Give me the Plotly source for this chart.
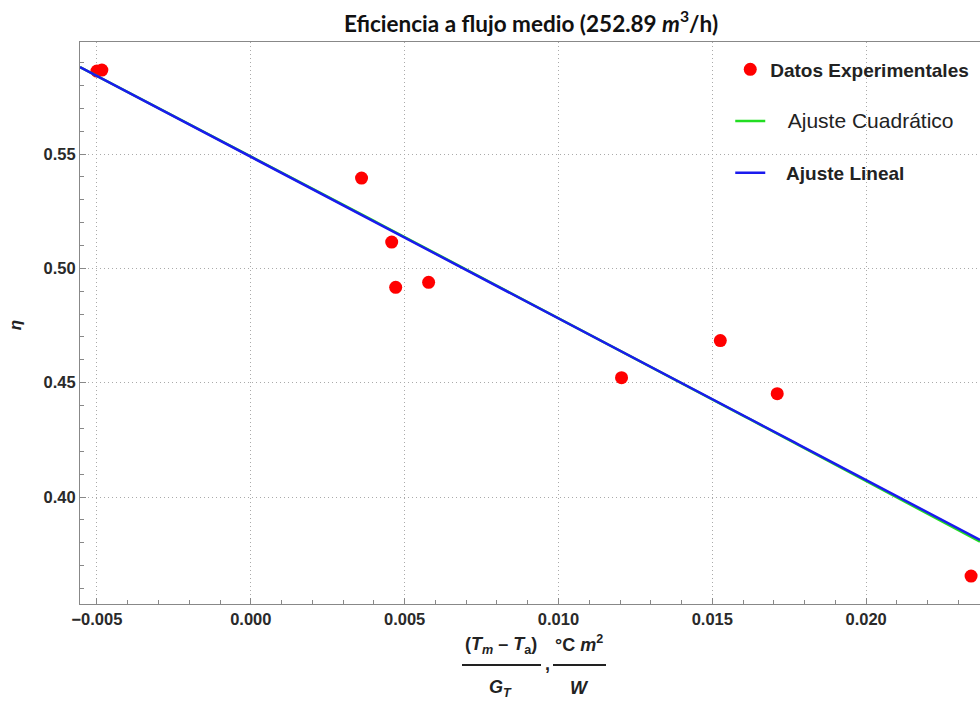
import numpy as np
import plotly.graph_objects as go

# ---- data ----
x_exp = [-0.00500, -0.00484, 0.00360, 0.00458, 0.00471, 0.00578, 0.01205, 0.01526, 0.01711, 0.02341]
y_exp = [0.5863, 0.5867, 0.5395, 0.5115, 0.4917, 0.4939, 0.4522, 0.4684, 0.4452, 0.3654]

lin_coef = [0.5488, -7.07]          # a + b x
quad_coef = [0.5490, -7.04, -3.0]   # a + b x + c x^2

x_range = [-0.00555, 0.0237]
y_range = [0.3532, 0.599]
x_ticks = [-0.005, 0.000, 0.005, 0.010, 0.015, 0.020]
x_ticklabels = ["\u22120.005", "0.000", "0.005", "0.010", "0.015", "0.020"]
y_ticks = [0.40, 0.45, 0.50, 0.55]
y_ticklabels = ["0.40", "0.45", "0.50", "0.55"]

xs = np.linspace(x_range[0], x_range[1], 200)
y_lin = lin_coef[0] + lin_coef[1] * xs
y_quad = quad_coef[0] + quad_coef[1] * xs + quad_coef[2] * xs ** 2

fig = go.Figure()
fig.add_trace(go.Scatter(x=x_exp, y=y_exp, mode="markers",
                         marker=dict(color="#ff0000", size=13),
                         name="<b>Datos Experimentales</b>", legendgroup="a"))
fig.add_trace(go.Scatter(x=xs, y=y_quad, mode="lines",
                         line=dict(color="#22dd22", width=2.5),
                         name="<span style=\"font-size:21px\">\u00a0\u00a0\u00a0Ajuste Cuadrático</span>", legendgroup="b"))
fig.add_trace(go.Scatter(x=xs, y=y_lin, mode="lines",
                         line=dict(color="#1a1aee", width=2.5),
                         name="\u00a0\u00a0\u00a0<b>Ajuste Lineal</b>", legendgroup="c"))

tickfont = dict(family="Liberation Sans", size=16.5, color="#2a2a2a", weight="bold")
gridstyle = "1px,3px"
fig.update_layout(
    width=980, height=705,
    margin=dict(l=80, r=0, t=42, b=101),
    plot_bgcolor="white", paper_bgcolor="white",
    title=dict(text="<b>Eficiencia a flujo medio (252.89 <i>m</i><sup>3</sup>/h)</b>",
               x=531 / 980, xanchor="center", y=0.966, yanchor="middle",
               font=dict(family="Lato", size=22.5, color="#111111")),
    legend=dict(x=0.7225, y=0.985, xanchor="left", yanchor="top",
                bgcolor="rgba(0,0,0,0)", tracegroupgap=24,
                font=dict(family="Liberation Sans", size=19, color="#222222")),
    showlegend=True,
)
fig.update_xaxes(range=x_range, tickvals=x_ticks, ticktext=x_ticklabels,
                 tickfont=tickfont, showline=True, linecolor="#888888", linewidth=1.2,
                 mirror=True, ticks="inside", ticklen=6, tickcolor="#888888",
                 minor=dict(dtick=0.001, ticks="inside", ticklen=4, tickcolor="#888888", showgrid=False),
                 showgrid=True, gridcolor="#aaaaaa", griddash=gridstyle, gridwidth=1,
                 zeroline=False)
fig.update_yaxes(range=y_range, tickvals=y_ticks, ticktext=y_ticklabels,
                 tickfont=tickfont, showline=True, linecolor="#888888", linewidth=1.2,
                 ticks="inside", ticklen=6, tickcolor="#888888",
                 minor=dict(dtick=0.01, ticks="inside", ticklen=4, tickcolor="#888888", showgrid=False),
                 showgrid=True, gridcolor="#aaaaaa", griddash=gridstyle, gridwidth=1,
                 zeroline=False)

# y axis title
fig.add_annotation(text="<b><i>η</i></b>", xref="paper", yref="paper",
                   x=(15 - 80) / 900, y=0.496, textangle=-90, showarrow=False,
                   xanchor="center", yanchor="middle",
                   font=dict(family="Liberation Sans", size=17, color="#222222"))

# x axis title as a fraction
lab_font = dict(family="Liberation Sans", size=18, color="#222222")
fig.add_annotation(text="<b>(<i>T</i><sub><i>m</i></sub> \u2013 <i>T</i><sub>a</sub>)</b>",
                   xref="paper", yref="paper", x=(501 - 80) / 900, y=-(645 - 604) / 562,
                   showarrow=False, xanchor="center", yanchor="middle", font=lab_font)
fig.add_annotation(text="<b><i>G</i><sub><i>T</i></sub></b>",
                   xref="paper", yref="paper", x=(500 - 80) / 900, y=-(688 - 604) / 562,
                   showarrow=False, xanchor="center", yanchor="middle", font=lab_font)
fig.add_annotation(text="<b>°C <i>m</i><sup>2</sup></b>",
                   xref="paper", yref="paper", x=(579 - 80) / 900, y=-(643 - 604) / 562,
                   showarrow=False, xanchor="center", yanchor="middle", font=lab_font)
fig.add_annotation(text="<b><i>W</i></b>",
                   xref="paper", yref="paper", x=(579 - 80) / 900, y=-(688 - 604) / 562,
                   showarrow=False, xanchor="center", yanchor="middle", font=lab_font)
fig.add_annotation(text="<b>,</b>",
                   xref="paper", yref="paper", x=(547 - 80) / 900, y=-(664 - 604) / 562,
                   showarrow=False, xanchor="center", yanchor="middle", font=lab_font)
fig.add_shape(type="line", xref="paper", yref="paper",
              x0=(462 - 80) / 900, x1=(541 - 80) / 900, y0=-(665 - 604) / 562, y1=-(665 - 604) / 562,
              line=dict(color="#222222", width=2))
fig.add_shape(type="line", xref="paper", yref="paper",
              x0=(553 - 80) / 900, x1=(606 - 80) / 900, y0=-(665 - 604) / 562, y1=-(665 - 604) / 562,
              line=dict(color="#222222", width=2))

fig.write_html("out.html")
